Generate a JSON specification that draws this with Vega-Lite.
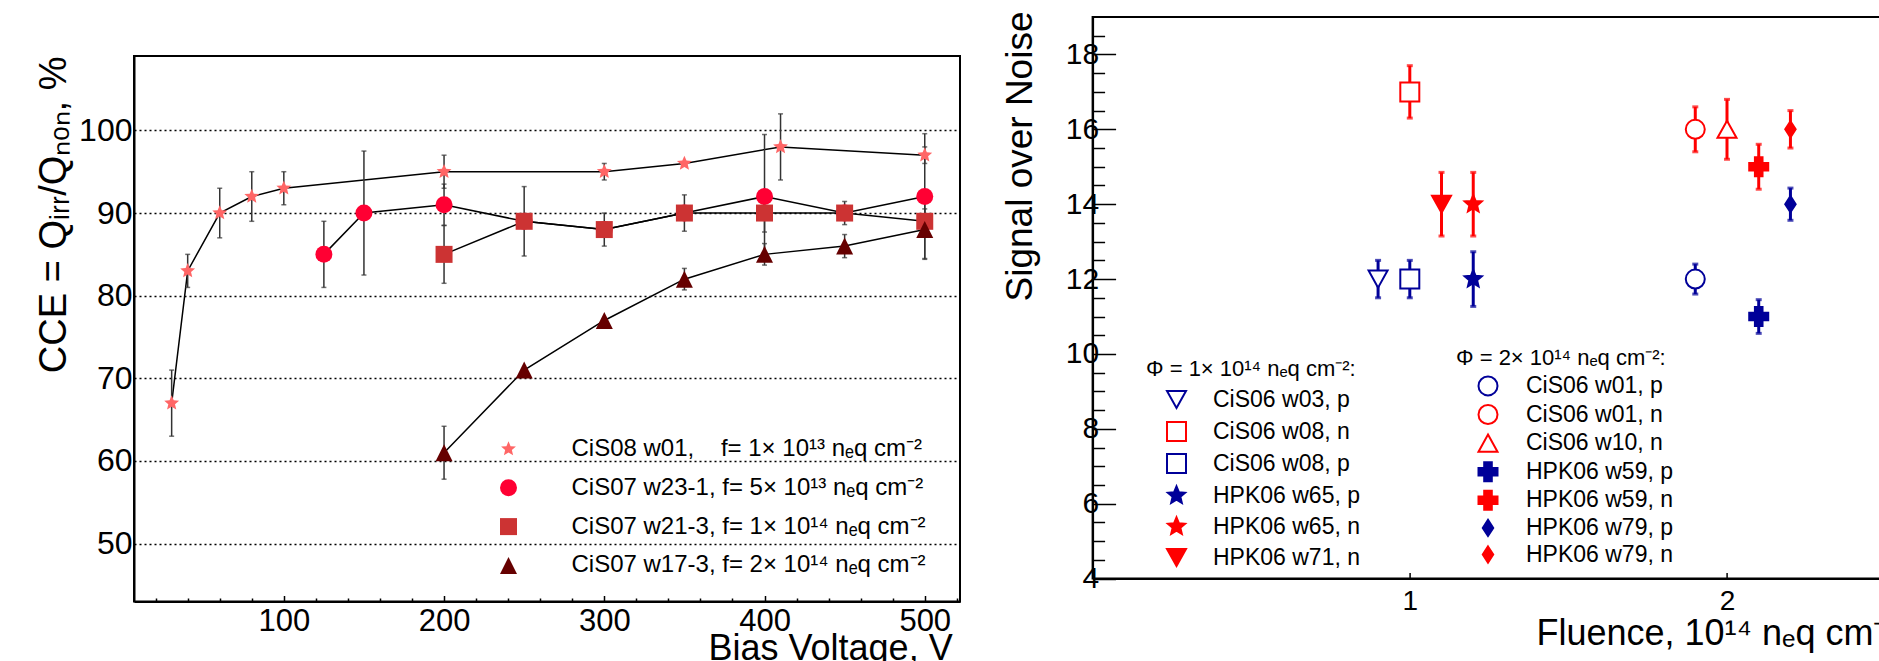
{
  "$schema": "https://vega.github.io/schema/vega-lite/v6.json",
  "background": "white",
  "padding": {"left": 34, "top": 10, "right": 0, "bottom": 0},
  "config": {
    "font": "Liberation Sans",
    "view": {"stroke": "black", "strokeWidth": 2},
    "axis": {
      "labelFont": "Liberation Sans", "titleFont": "Liberation Sans",
      "titleFontWeight": "normal", "labelColor": "black", "titleColor": "black",
      "domainColor": "black", "domainWidth": 2, "tickColor": "black",
      "labelFlush": false, "labelOverlap": false
    },
    "legend": {
      "labelFont": "Liberation Sans", "titleFont": "Liberation Sans",
      "labelColor": "black", "titleColor": "black", "titleFontWeight": "normal",
      "padding": 0, "labelLimit": 600, "titleLimit": 600, "symbolOpacity": 1
    }
  },
  "datasets": {
    "cce": [
      {"series": "CiS08 w01", "v": 30, "cce": 67, "err": 4},
      {"series": "CiS08 w01", "v": 40, "cce": 83, "err": 2},
      {"series": "CiS08 w01", "v": 60, "cce": 90, "err": 3},
      {"series": "CiS08 w01", "v": 80, "cce": 92, "err": 3},
      {"series": "CiS08 w01", "v": 100, "cce": 93, "err": 2},
      {"series": "CiS08 w01", "v": 200, "cce": 95, "err": 2},
      {"series": "CiS08 w01", "v": 300, "cce": 95, "err": 1},
      {"series": "CiS08 w01", "v": 350, "cce": 96, "err": 0},
      {"series": "CiS08 w01", "v": 410, "cce": 98, "err": 4},
      {"series": "CiS08 w01", "v": 500, "cce": 97, "err": 1},
      {"series": "CiS07 w23-1", "v": 125, "cce": 85, "err": 4},
      {"series": "CiS07 w23-1", "v": 150, "cce": 90, "err": 7.5},
      {"series": "CiS07 w23-1", "v": 200, "cce": 91, "err": 2.5},
      {"series": "CiS07 w23-1", "v": 250, "cce": 89, "err": 0.8},
      {"series": "CiS07 w23-1", "v": 300, "cce": 88, "err": 0.8},
      {"series": "CiS07 w23-1", "v": 350, "cce": 90, "err": 0.8},
      {"series": "CiS07 w23-1", "v": 400, "cce": 92, "err": 7.5},
      {"series": "CiS07 w23-1", "v": 450, "cce": 90, "err": 0.8},
      {"series": "CiS07 w23-1", "v": 500, "cce": 92, "err": 7.6},
      {"series": "CiS07 w21-3", "v": 200, "cce": 85, "err": 3.5},
      {"series": "CiS07 w21-3", "v": 250, "cce": 89, "err": 4.2},
      {"series": "CiS07 w21-3", "v": 300, "cce": 88, "err": 2},
      {"series": "CiS07 w21-3", "v": 350, "cce": 90, "err": 2.2},
      {"series": "CiS07 w21-3", "v": 400, "cce": 90, "err": 2.3},
      {"series": "CiS07 w21-3", "v": 450, "cce": 90, "err": 1.4},
      {"series": "CiS07 w21-3", "v": 500, "cce": 89, "err": 1.5},
      {"series": "CiS07 w17-3", "v": 200, "cce": 61, "err": 3.2},
      {"series": "CiS07 w17-3", "v": 250, "cce": 71, "err": 0},
      {"series": "CiS07 w17-3", "v": 300, "cce": 77, "err": 0},
      {"series": "CiS07 w17-3", "v": 350, "cce": 82, "err": 1.3},
      {"series": "CiS07 w17-3", "v": 400, "cce": 85, "err": 1.3},
      {"series": "CiS07 w17-3", "v": 450, "cce": 86, "err": 1.4},
      {"series": "CiS07 w17-3", "v": 500, "cce": 88, "err": 3.5}
    ],
    "son": [
      {"series": "CiS06 w03, p", "phi": 1, "fluence": 0.9, "son": 12, "err": 0.5},
      {"series": "CiS06 w08, n", "phi": 1, "fluence": 1.0, "son": 17, "err": 0.7},
      {"series": "CiS06 w08, p", "phi": 1, "fluence": 1.0, "son": 12, "err": 0.5},
      {"series": "HPK06 w65, p", "phi": 1, "fluence": 1.2, "son": 12, "err": 0.73},
      {"series": "HPK06 w65, n", "phi": 1, "fluence": 1.2, "son": 14, "err": 0.85},
      {"series": "HPK06 w71, n", "phi": 1, "fluence": 1.1, "son": 14, "err": 0.85},
      {"series": "CiS06 w01, p", "phi": 2, "fluence": 1.9, "son": 12, "err": 0.4},
      {"series": "CiS06 w01, n", "phi": 2, "fluence": 1.9, "son": 16, "err": 0.6},
      {"series": "CiS06 w10, n", "phi": 2, "fluence": 2.0, "son": 16, "err": 0.8},
      {"series": "HPK06 w59, p", "phi": 2, "fluence": 2.1, "son": 11, "err": 0.45},
      {"series": "HPK06 w59, n", "phi": 2, "fluence": 2.1, "son": 15, "err": 0.6},
      {"series": "HPK06 w79, p", "phi": 2, "fluence": 2.2, "son": 14, "err": 0.43},
      {"series": "HPK06 w79, n", "phi": 2, "fluence": 2.2, "son": 16, "err": 0.5}
    ]
  },
  "spacing": 38.6,
  "resolve": {"scale": {"shape": "independent", "color": "independent", "stroke": "independent", "fill": "independent"}},
  "hconcat": [
    {
      "spacing": 0,
      "resolve": {"scale": {"shape": "independent", "color": "independent"}},
      "vconcat": [
        {
          "width": 826, "height": 38,
          "data": {"values": []},
          "mark": "point",
          "view": {"stroke": null}
        },
        {
          "width": 826, "height": 545.5,
          "data": {"name": "cce"},
          "encoding": {
            "x": {
              "field": "v", "type": "quantitative",
              "scale": {"domain": [6.5, 522], "nice": false, "zero": false},
              "axis": {
                "values": [20, 40, 60, 80, 100, 120, 140, 160, 180, 200, 220, 240, 260, 280, 300, 320, 340, 360, 380, 400, 420, 440, 460, 480, 500, 520],
                "labelExpr": "datum.value % 100 === 0 ? datum.label : ''",
                "tickSize": {"condition": {"test": "datum.value % 100 === 0", "value": -6}, "value": -3.5},
                "tickWidth": 1.5,
                "labelFontSize": 31, "labelPadding": 11,
                "grid": false,
                "title": "Bias Voltage, V", "titleFontSize": 36,
                "titleX": 574, "titleY": 58, "titleAlign": "left", "titleBaseline": "alphabetic"
              }
            },
            "y": {
              "field": "cce", "type": "quantitative",
              "scale": {"domain": [43, 109], "nice": false, "zero": false},
              "axis": {
                "values": [50, 60, 70, 80, 90, 100],
                "ticks": false, "labelFontSize": 32, "labelPadding": 2,
                "grid": true, "gridColor": "black", "gridDash": [2, 3], "gridWidth": 1.6,
                "title": "CCE = Qᵢᵣᵣ/Qₙₒₙ, %", "titleFontSize": 38,
                "titleX": -69, "titleY": 0, "titleAlign": "right", "titleBaseline": "alphabetic", "titleAngle": 270
              }
            }
          },
          "layer": [
            {
              "mark": {"type": "line", "color": "black", "strokeWidth": 1.5},
              "encoding": {"detail": {"field": "series"}, "order": {"field": "v", "type": "quantitative"}}
            },
            {
              "mark": {"type": "errorbar", "ticks": true, "color": "#333333", "thickness": 1.5, "size": 5},
              "encoding": {"yError": {"field": "err"}}
            },
            {
              "mark": {"type": "point", "filled": true, "opacity": 1, "size": 289},
              "encoding": {
                "shape": {
                  "field": "series", "type": "nominal",
                  "scale": {
                    "domain": ["CiS08 w01", "CiS07 w23-1", "CiS07 w21-3", "CiS07 w17-3"],
                    "range": ["M0,-0.92L0.244,-0.335L0.875,-0.284L0.394,0.128L0.541,0.744L0,0.414L-0.541,0.744L-0.394,0.128L-0.875,-0.284L-0.244,-0.335Z", "circle", "square", "M0,-1L1,1L-1,1Z"]
                  },
                  "legend": {
                    "title": null, "orient": "none", "legendX": 362.5, "legendY": 381,
                    "symbolSize": 289, "symbolOffset": 0, "labelOffset": 51, "labelFontSize": 24, "rowPadding": 14.8,
                    "labelExpr": "{'CiS08 w01': 'CiS08 w01,\u00a0\u00a0\u00a0\u00a0f= 1\u00d7 10\u00b9\u00b3 n\u2091q cm\u207b\u00b2', 'CiS07 w23-1': 'CiS07 w23-1, f= 5\u00d7 10\u00b9\u00b3 n\u2091q cm\u207b\u00b2', 'CiS07 w21-3': 'CiS07 w21-3, f= 1\u00d7 10\u00b9\u2074 n\u2091q cm\u207b\u00b2', 'CiS07 w17-3': 'CiS07 w17-3, f= 2\u00d7 10\u00b9\u2074 n\u2091q cm\u207b\u00b2'}[datum.label]"
                  }
                },
                "color": {
                  "field": "series", "type": "nominal",
                  "scale": {
                    "domain": ["CiS08 w01", "CiS07 w23-1", "CiS07 w21-3", "CiS07 w17-3"],
                    "range": ["#ff6666", "#ff0033", "#cc3333", "#660000"]
                  }
                }
              }
            }
          ]
        }
      ]
    },
    {
      "width": 793, "height": 561.6,
      "data": {"name": "son"},
      "encoding": {
        "x": {
          "field": "fluence", "type": "quantitative",
          "scale": {"domain": [0, 2.5], "nice": false, "zero": false},
          "axis": {
            "values": [1, 2], "tickSize": -6, "tickWidth": 1.5,
            "labelFontSize": 28, "labelPadding": 14.4, "grid": false,
            "title": "Fluence, 10\u00b9\u2074 n\u2091q cm\u207b\u00b2", "titleFontSize": 36,
            "titleX": 443.4, "titleY": 65.5, "titleAlign": "left", "titleBaseline": "alphabetic"
          }
        },
        "y": {
          "field": "son", "type": "quantitative",
          "scale": {"domain": [4, 19], "nice": false, "zero": false},
          "axis": {
            "values": [4, 4.5, 5, 5.5, 6, 6.5, 7, 7.5, 8, 8.5, 9, 9.5, 10, 10.5, 11, 11.5, 12, 12.5, 13, 13.5, 14, 14.5, 15, 15.5, 16, 16.5, 17, 17.5, 18, 18.5],
            "labelExpr": "datum.value % 2 === 0 ? format(datum.value, 'd') : ''",
            "tickSize": {"condition": {"test": "datum.value % 2 === 0", "value": -23}, "value": -12},
            "tickWidth": 1.5,
            "labelFontSize": 30, "labelPadding": 17, "grid": false,
            "title": "Signal over Noise", "titleFontSize": 37,
            "titleX": -61.6, "titleY": -6, "titleAlign": "right", "titleBaseline": "alphabetic", "titleAngle": 270
          }
        }
      },
      "layer": [
        {
          "transform": [{"filter": "datum.phi == 1"}],
          "mark": {"type": "errorbar", "ticks": true, "thickness": 3, "size": 6},
          "encoding": {
            "yError": {"field": "err"},
            "color": {
              "field": "series", "type": "nominal", "legend": null,
              "scale": {
                "domain": ["CiS06 w03, p", "CiS06 w08, n", "CiS06 w08, p", "HPK06 w65, p", "HPK06 w65, n", "HPK06 w71, n"],
                "range": ["#000099", "#ff0000", "#000099", "#000099", "#ff0000", "#ff0000"]
              }
            }
          }
        },
        {
          "transform": [{"filter": "datum.phi == 1"}],
          "mark": {"type": "point", "opacity": 1, "size": 361, "strokeWidth": 2},
          "encoding": {
            "shape": {
              "field": "series", "type": "nominal",
              "scale": {
                "domain": ["CiS06 w03, p", "CiS06 w08, n", "CiS06 w08, p", "HPK06 w65, p", "HPK06 w65, n", "HPK06 w71, n"],
                "range": ["M0,0.9L1,-0.9L-1,-0.9Z", "square", "square", "M0,-0.95L0.251,-0.346L0.903,-0.294L0.407,0.132L0.559,0.769L0,0.428L-0.559,0.769L-0.407,0.132L-0.903,-0.294L-0.251,-0.346Z", "M0,-0.95L0.251,-0.346L0.903,-0.294L0.407,0.132L0.559,0.769L0,0.428L-0.559,0.769L-0.407,0.132L-0.903,-0.294L-0.251,-0.346Z", "M0,0.9L1,-0.9L-1,-0.9Z"]
              },
              "legend": {
                "title": "\u03a6 = 1\u00d7 10\u00b9\u2074 n\u2091q cm\u207b\u00b2:", "titleFontSize": 22, "titlePadding": 7,
                "orient": "none", "legendX": 53.4, "legendY": 342,
                "symbolSize": 361, "symbolStrokeWidth": 2, "symbolOffset": 19, "labelOffset": 25,
                "labelFontSize": 23, "rowPadding": 5
              }
            },
            "stroke": {
              "field": "series", "type": "nominal",
              "scale": {
                "domain": ["CiS06 w03, p", "CiS06 w08, n", "CiS06 w08, p", "HPK06 w65, p", "HPK06 w65, n", "HPK06 w71, n"],
                "range": ["#000099", "#ff0000", "#000099", "#000099", "#ff0000", "#ff0000"]
              }
            },
            "fill": {
              "field": "series", "type": "nominal",
              "scale": {
                "domain": ["CiS06 w03, p", "CiS06 w08, n", "CiS06 w08, p", "HPK06 w65, p", "HPK06 w65, n", "HPK06 w71, n"],
                "range": ["white", "white", "white", "#000099", "#ff0000", "#ff0000"]
              }
            }
          }
        },
        {
          "transform": [{"filter": "datum.phi == 2"}],
          "mark": {"type": "errorbar", "ticks": true, "thickness": 3, "size": 6},
          "encoding": {
            "yError": {"field": "err"},
            "color": {
              "field": "series", "type": "nominal", "legend": null,
              "scale": {
                "domain": ["CiS06 w01, p", "CiS06 w01, n", "CiS06 w10, n", "HPK06 w59, p", "HPK06 w59, n", "HPK06 w79, p", "HPK06 w79, n"],
                "range": ["#000099", "#ff0000", "#ff0000", "#000099", "#ff0000", "#000099", "#ff0000"]
              }
            }
          }
        },
        {
          "transform": [{"filter": "datum.phi == 2"}],
          "mark": {"type": "point", "opacity": 1, "size": 361, "strokeWidth": 2},
          "encoding": {
            "shape": {
              "field": "series", "type": "nominal",
              "scale": {
                "domain": ["CiS06 w01, p", "CiS06 w01, n", "CiS06 w10, n", "HPK06 w59, p", "HPK06 w59, n", "HPK06 w79, p", "HPK06 w79, n"],
                "range": ["circle", "circle", "M0,-0.9L1,0.9L-1,0.9Z", "cross", "cross", "M0,-0.85L0.55,0L0,0.85L-0.55,0Z", "M0,-0.85L0.55,0L0,0.85L-0.55,0Z"]
              },
              "legend": {
                "title": "\u03a6 = 2\u00d7 10\u00b9\u2074 n\u2091q cm\u207b\u00b2:", "titleFontSize": 22, "titlePadding": 4,
                "orient": "none", "legendX": 363.4, "legendY": 331.4,
                "symbolSize": 361, "symbolStrokeWidth": 2, "symbolOffset": 20.5, "labelOffset": 26.5,
                "labelFontSize": 23, "rowPadding": 1.6
              }
            },
            "stroke": {
              "field": "series", "type": "nominal",
              "scale": {
                "domain": ["CiS06 w01, p", "CiS06 w01, n", "CiS06 w10, n", "HPK06 w59, p", "HPK06 w59, n", "HPK06 w79, p", "HPK06 w79, n"],
                "range": ["#000099", "#ff0000", "#ff0000", "#000099", "#ff0000", "#000099", "#ff0000"]
              }
            },
            "fill": {
              "field": "series", "type": "nominal",
              "scale": {
                "domain": ["CiS06 w01, p", "CiS06 w01, n", "CiS06 w10, n", "HPK06 w59, p", "HPK06 w59, n", "HPK06 w79, p", "HPK06 w79, n"],
                "range": ["white", "white", "white", "#000099", "#ff0000", "#000099", "#ff0000"]
              }
            }
          }
        }
      ],
      "resolve": {"scale": {"shape": "independent", "stroke": "independent", "fill": "independent", "color": "independent"}}
    }
  ]
}
